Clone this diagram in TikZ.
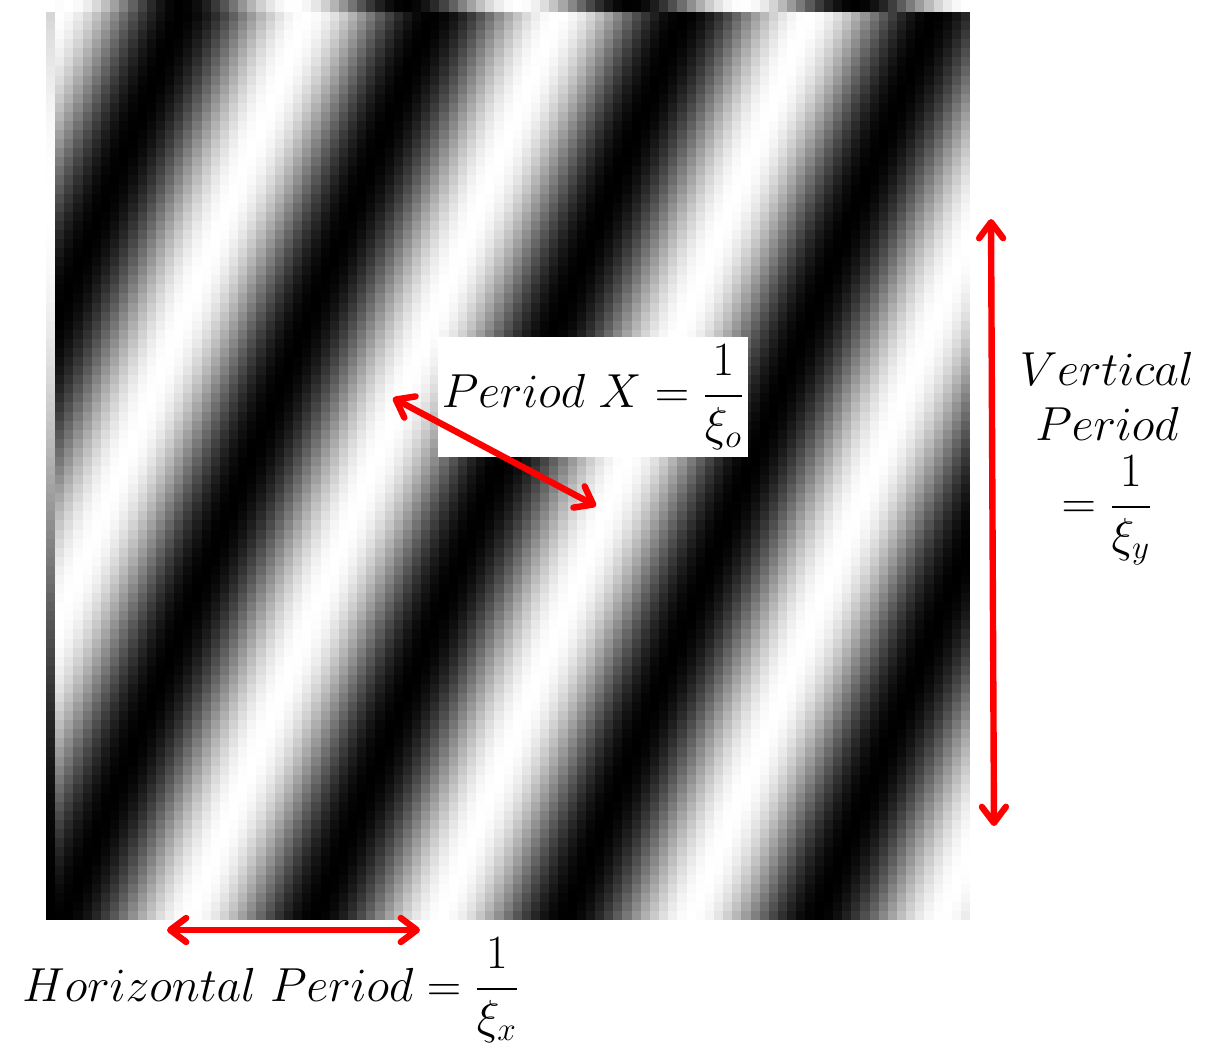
\documentclass[tikz,border=0pt]{standalone}
\usepackage{amsmath}
\usepackage{tikz}
\usetikzlibrary{arrows.meta}
\definecolor{PeriodRed}{HTML}{FF0000}

\tikzset{
  period arrow/.style={PeriodRed, line width=3.2pt, line cap=round,
    {Straight Barb[round,length=8pt,width=12pt]}-{Straight Barb[round,length=8pt,width=12pt]}},
  period label/.style={font=\fontsize{24}{28.5}\selectfont, inner sep=0pt,
    scale=0.96, transform shape}
}

\begin{document}
\begin{tikzpicture}[x=0.5pt,y=-0.5pt]
  \useasboundingbox (0,0) rectangle (1220,1046);
  % grating, one square per pixel
  \foreach \r in {1,...,100}{
    \pgfmathsetmacro{\ry}{12+9.08*(\r-1)}
    \pgfmathsetmacro{\rph}{(\ry+4.54-27)/615}
    \foreach \c in {1,...,100}{
      \pgfmathsetmacro{\cx}{46+9.15*\c}
      \pgfmathsetmacro{\gv}{max(0,min(1,0.5+0.5*cos(360*((\cx+4.575-51)/251+\rph))))}
      \definecolor{pixgray}{gray}{\gv}
      \fill[pixgray] (\cx,\ry) rectangle ++(9.3,9.2);
    }
    \pgfmathsetmacro{\gv}{max(0,min(1,0.5+0.5*cos(360*((\ry+4.54-200)/1400))))}
    \definecolor{pixgray}{gray}{\gv}
    \fill[pixgray] (46,\ry) rectangle ++(9.3,9.2);
  }
  % wrapped top row
  \foreach \c in {1,...,100}{
    \pgfmathsetmacro{\cx}{46+9.15*\c}
    \pgfmathsetmacro{\gv}{max(0,min(1,0.5+0.5*cos(360*((\cx+4.575-293)/225))))}
    \definecolor{pixgray}{gray}{\gv}
    \fill[pixgray] (\cx,0) rectangle ++(9.3,12.1);
  }

  \node[period label, fill=white, minimum width=161pt, minimum height=62.5pt] (boxX)
    at (593,397) {$Period\ X=\dfrac{1}{\xi_o}$};
  \node[period label, align=center, anchor=north] (vlab) at (1107,352)
    {$Vertical$\\$Period$\\[7pt]$=\dfrac{1}{\xi_y}$};
  \node[period label, anchor=base west] (hlab) at (22,1001)
    {$Horizontal\ Period=\dfrac{1}{\xi_x}$};

  \coordinate (hL) at (167,930);
  \coordinate (hR) at (420,930);
  \coordinate (vT) at (991,219);
  \coordinate (vB) at (994,826);
  \coordinate (dA) at (393,398);
  \coordinate (dB) at (596,506);
  \draw[period arrow] (hL) -- (hR);
  \draw[period arrow] (vT) -- (vB);
  \draw[period arrow] (dA) -- (dB);
\end{tikzpicture}
\end{document}
